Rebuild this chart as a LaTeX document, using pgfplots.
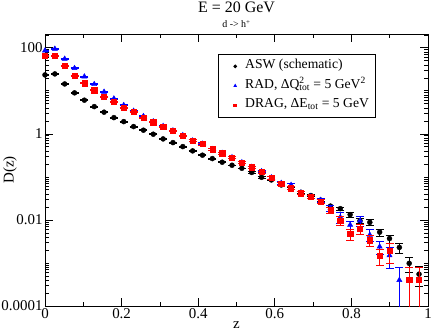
\documentclass[border=0pt]{standalone}
\usepackage{fontspec}
\setmainfont{Liberation Serif}
\usepackage{pgfplots}
\pgfplotsset{compat=1.18}
\usepackage{pgfplotstable}

\pgfplotstableread{
x y e
0.0000 23.5 0.47
0.0257 24.8 0.50
0.0514 14.5 0.29
0.0771 9.0 0.18
0.1028 6.08 0.12
0.1285 4.31 0.086
0.1542 3.2 0.064
0.1799 2.39 0.048
0.2056 1.93 0.039
0.2313 1.48 0.03
0.2570 1.22 0.024
0.2827 0.984 0.02
0.3084 0.765 0.015
0.3341 0.628 0.013
0.3598 0.507 0.01
0.3855 0.403 0.008
0.4112 0.320 0.0064
0.4369 0.267 0.0053
0.4626 0.220 0.0044
0.4883 0.187 0.0037
0.5140 0.159 0.0032
0.5397 0.127 0.005
0.5654 0.098 0.004
0.5911 0.085 0.0034
0.6168 0.065 0.0026
0.6425 0.055 0.0022
0.6682 0.044 0.0026
0.6939 0.037 0.0022
0.7196 0.029 0.0017
0.7453 0.021 0.0013
0.7710 0.0183 0.0018
0.7967 0.0133 0.0016
0.8224 0.0096 0.0014
0.8481 0.0088 0.0015
0.8738 0.0052 0.001
0.8995 0.0037 0.0008
0.9252 0.0023 0.0006
0.9509 0.00098 0.00037
0.9766 0.00055 0.00027
}\asw

\pgfplotstableread{
x y ep em
0.0000 86.5 1.7 1.7
0.0257 94.8 1.9 1.9
0.0514 55.5 1.1 1.1
0.0771 33.7 0.67 0.67
0.1028 21.5 0.43 0.43
0.1285 14.3 0.29 0.29
0.1542 9.48 0.19 0.19
0.1799 6.62 0.13 0.13
0.2056 4.65 0.093 0.093
0.2313 3.43 0.069 0.069
0.2570 2.58 0.052 0.052
0.2827 1.95 0.039 0.039
0.3084 1.52 0.03 0.03
0.3341 1.2 0.024 0.024
0.3598 0.93 0.019 0.019
0.3855 0.70 0.035 0.035
0.4112 0.59 0.03 0.03
0.4369 0.44 0.022 0.022
0.4626 0.36 0.018 0.018
0.4883 0.285 0.014 0.014
0.5140 0.218 0.011 0.011
0.5397 0.17 0.0085 0.0085
0.5654 0.135 0.0068 0.0068
0.5911 0.097 0.0078 0.0078
0.6168 0.072 0.0058 0.0058
0.6425 0.065 0.0052 0.0052
0.6682 0.043 0.0034 0.0034
0.6939 0.035 0.0028 0.0028
0.7196 0.029 0.0035 0.0035
0.7453 0.019 0.0029 0.0029
0.7710 0.0116 0.0031 0.0031
0.7967 0.0077 0.0017 0.0017
0.8224 0.0096 0.0024 0.0024
0.8481 0.0045 0.0014 0.0014
0.8738 0.0024 0.00084 0.00084
0.8995 0.0015 0.00075 0.00075
0.9252 0.0004 0.0004 0.0003996
}\rad

\pgfplotstableread{
x y ep em
0.0000 65.2 1.3 1.3
0.0257 66.2 1.3 1.3
0.0514 38.1 0.76 0.76
0.0771 22.7 0.45 0.45
0.1028 15.1 0.3 0.3
0.1285 10.4 0.21 0.21
0.1542 7.37 0.15 0.15
0.1799 5.64 0.11 0.11
0.2056 4.09 0.082 0.082
0.2313 3.25 0.065 0.065
0.2570 2.36 0.047 0.047
0.2827 1.88 0.038 0.038
0.3084 1.48 0.03 0.03
0.3341 1.19 0.024 0.024
0.3598 0.91 0.018 0.018
0.3855 0.698 0.035 0.035
0.4112 0.585 0.029 0.029
0.4369 0.44 0.022 0.022
0.4626 0.356 0.018 0.018
0.4883 0.281 0.014 0.014
0.5140 0.215 0.011 0.011
0.5397 0.168 0.0084 0.0084
0.5654 0.131 0.0066 0.0066
0.5911 0.095 0.0076 0.0076
0.6168 0.071 0.0057 0.0057
0.6425 0.055 0.0044 0.0044
0.6682 0.042 0.0034 0.0034
0.6939 0.034 0.0027 0.0027
0.7196 0.027 0.0032 0.0032
0.7453 0.017 0.0026 0.0026
0.7710 0.0096 0.0023 0.0023
0.7967 0.0047 0.0014 0.0014
0.8224 0.0062 0.0016 0.0016
0.8481 0.0034 0.001 0.001
0.8738 0.0015 0.0006 0.0006
0.8995 0.0019 0.0009 0.0009
0.9509 0.0004 0.0004 0.0003996
0.9766 0.0004 0.0004 0.0003996
}\drag

\begin{document}
\begin{tikzpicture}
\begin{axis}[
  scale only axis, width=383bp, height=272bp,
  clip mode=individual,
  xmin=0, xmax=1, ymode=log, ymin=1e-4, ymax=210,
  xtick={0,0.2,0.4,0.6,0.8,1}, minor x tick num=1,
  ytick={1e-4,1e-2,1,100}, yticklabels={0.0001,0.01,1,100},
  minor ytick={2e-4,3e-4,4e-4,5e-4,6e-4,7e-4,8e-4,9e-4,1e-3,2e-3,3e-3,4e-3,5e-3,6e-3,7e-3,8e-3,9e-3,
    2e-2,3e-2,4e-2,5e-2,6e-2,7e-2,8e-2,9e-2,1e-1,2e-1,3e-1,4e-1,5e-1,6e-1,7e-1,8e-1,9e-1,
    2,3,4,5,6,7,8,9,10,20,30,40,50,60,70,80,90,200},
  tick align=inside, major tick length=8bp, minor tick length=4.5bp,
  tick style={black, line width=0.8bp},
  axis line style={line width=0.9bp},
  ticklabel style={font=\fontsize{15}{15}\selectfont},
  /pgf/number format/assume math mode=true,
  xticklabel style={yshift=1bp},
  yticklabel style={xshift=1bp},
  xlabel={z}, ylabel={D(z)},
  label style={font=\fontsize{15}{15}\selectfont},
  xlabel style={at={(axis description cs:0.5,-0.07)}, anchor=center},
  ylabel style={at={(axis description cs:-0.091,0.5)}, anchor=center},
  legend style={at={(0.452,0.926)}, anchor=north west, draw=black, line width=0.8bp,
    font=\fontsize{13.7}{16}\selectfont, inner xsep=6.6bp, inner ysep=5bp,
    nodes={inner sep=0bp, text height=9.3bp, text depth=4.4bp},
    row sep=5.8bp, column sep=0bp},
  legend cell align=left,
  legend image code/.code={\path[draw=none, fill=none] (-10.1bp,0bp) rectangle (10bp,0bp);
    \draw[#1, mark size=1.4bp] plot coordinates {(0bp,0bp)};},
  error bars/y dir=both, error bars/y explicit,
]
\addplot[only marks, mark=*, mark size=2.5bp, black,
  error bars/error bar style={line width=0.7bp},
  error bars/error mark options={rotate=90, mark size=4bp, line width=0.7bp}]
  table[x=x, y=y, y error=e]{\asw};
\addlegendentry{ASW (schematic)}
\addplot[only marks, mark=triangle*, mark size=3bp, blue,
  error bars/error bar style={line width=0.7bp},
  error bars/error mark options={rotate=90, mark size=4bp, line width=0.7bp}]
  table[x=x, y=y, y error plus=ep, y error minus=em]{\rad};
\addlegendentry{RAD, ΔQ\rlap{\textsuperscript{2}}\textsubscript{tot} = 5 GeV\textsuperscript{2}}
\addplot[only marks, mark=square*, mark size=2.6bp, red,
  error bars/error bar style={line width=0.7bp},
  error bars/error mark options={rotate=90, mark size=4bp, line width=0.7bp}]
  table[x=x, y=y, y error plus=ep, y error minus=em]{\drag};
\addlegendentry{DRAG, ΔE\textsubscript{tot} = 5 GeV}
\node[font=\fontsize{16}{16}\selectfont] at (rel axis cs:0.5,1.099) {E = 20 GeV};
\node[font=\fontsize{10}{10}\selectfont] at (rel axis cs:0.5,1.037) {d -> h\textsuperscript{+}};
\end{axis}
\pgfresetboundingbox
\path[use as bounding box] ([xshift=-45bp,yshift=-26bp]current axis.south west) rectangle ([xshift=8bp,yshift=34bp]current axis.north east);
\end{tikzpicture}
\end{document}
